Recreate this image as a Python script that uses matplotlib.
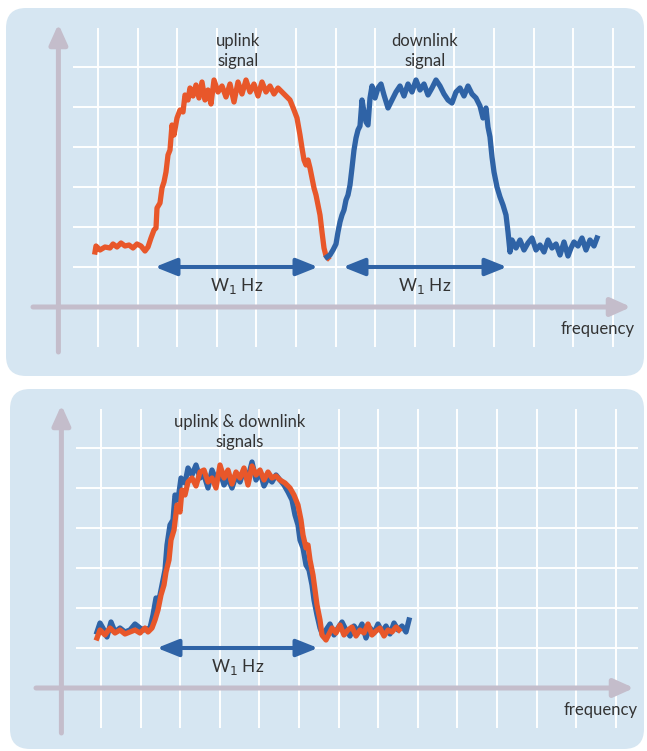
import numpy as np
import matplotlib.pyplot as plt
from matplotlib.patches import FancyBboxPatch

plt.rcParams['font.family'] = ['Lato', 'DejaVu Sans']

# ---- top panel: uplink and downlink on separate bands ----
up_f = [-3, -2, 2, 7, 12, 15, 19, 23, 27, 31, 35, 39, 43, 47, 50, 53, 56, 58, 59, 62,
        64, 66, 68, 70, 72, 74, 76, 79, 82, 85, 87, 90, 92, 95, 98, 101, 104, 107, 110, 113,
        116, 120, 124, 128, 132, 136, 140, 144, 148, 152, 156, 160, 164, 168, 172, 176, 180, 184, 188, 192,
        196, 199, 202, 204, 206, 208, 210, 212, 214, 216, 218, 220, 222, 224, 226, 228, 230]
up_p = [55, 61, 57, 60, 59, 63, 60, 64, 61, 62, 59, 63, 61, 56, 60, 69, 77, 79, 99, 104,
        119, 125, 135, 152, 157, 182, 172, 189, 197, 195, 212, 207, 219, 211, 222, 209, 225, 207, 217, 203,
        227, 215, 221, 210, 223, 205, 225, 213, 227, 215, 223, 211, 225, 215, 221, 213, 219, 215, 211, 207,
        197, 189, 172, 159, 147, 142, 147, 139, 129, 119, 112, 102, 92, 75, 59, 51, 49]

down_f = [229, 232, 235, 238, 240, 242, 244, 246, 248, 250, 252, 254, 256, 258, 260, 262, 264, 266, 268, 270,
          272, 274, 277, 280, 283, 286, 290, 294, 298, 302, 306, 310, 314, 318, 322, 326, 330, 334, 338, 342,
          346, 350, 354, 358, 362, 366, 370, 374, 378, 382, 385, 388, 390, 392, 394, 396, 399, 402, 405, 408,
          410, 412, 414, 418, 422, 426, 430, 434, 438, 442, 446, 450, 454, 458, 462, 466, 470, 473, 476, 480,
          484, 488, 492, 496, 499]
down_p = [50, 52, 57, 63, 75, 85, 92, 97, 107, 112, 122, 139, 157, 169, 177, 181, 207, 195, 185, 182,
          209, 221, 209, 219, 223, 212, 199, 207, 215, 221, 211, 223, 215, 227, 217, 223, 212, 219, 227, 221,
          213, 207, 204, 215, 219, 211, 221, 213, 209, 201, 189, 199, 180, 170, 150, 135, 120, 110, 102, 92,
          75, 55, 67, 59, 67, 57, 64, 69, 57, 62, 55, 67, 59, 63, 52, 65, 51, 59, 65, 61,
          69, 57, 67, 61, 69]

# ---- bottom panel: uplink and downlink sharing one band ----
both_up_f = [-4, -1, 4, 9, 14, 19, 24, 29, 34, 39, 44, 47, 51, 54, 57, 60, 63, 65, 68, 70,
             73, 76, 79, 81, 84, 87, 91, 95, 99, 103, 107, 111, 115, 119, 123, 127, 131, 135, 139, 143,
             147, 151, 155, 159, 163, 167, 171, 175, 179, 184, 189, 193, 197, 200, 202, 205, 207, 209, 212, 214,
             216, 219, 221, 225, 227, 231, 235, 239, 243, 247, 251, 255, 259, 263, 267, 271, 275, 279, 283, 287,
             291, 295, 298]
both_up_p = [50, 58, 53, 60, 55, 58, 54, 56, 58, 55, 60, 56, 60, 68, 78, 93, 103, 116, 128, 148,
             158, 183, 176, 198, 193, 206, 210, 202, 216, 218, 206, 210, 200, 223, 210, 218, 204, 216, 210, 220,
             203, 222, 213, 218, 208, 216, 210, 212, 208, 205, 200, 193, 183, 168, 153, 140, 143, 128, 113, 98,
             83, 68, 53, 48, 52, 60, 55, 63, 53, 58, 61, 52, 58, 55, 64, 53, 57, 60, 52, 58,
             56, 61, 58]

both_down_f = [-4, -1, 3, 6, 10, 14, 19, 24, 29, 34, 39, 43, 49, 52, 55, 58, 61, 64, 66, 69,
               72, 74, 77, 80, 84, 87, 91, 95, 99, 103, 107, 111, 115, 119, 123, 127, 131, 135, 139, 143,
               147, 151, 155, 159, 163, 167, 171, 175, 179, 183, 187, 191, 194, 197, 199, 202, 205, 208, 211, 213,
               216, 219, 222, 225, 229, 233, 237, 241, 245, 249, 253, 257, 261, 265, 269, 273, 277, 281, 285, 289,
               293, 297, 301, 305, 308]
both_down_p = [56, 65, 58, 51, 66, 56, 60, 56, 58, 64, 60, 58, 60, 73, 90, 88, 103, 118, 143, 163,
               168, 193, 188, 210, 205, 220, 213, 223, 210, 213, 200, 218, 208, 216, 203, 210, 200, 212, 206, 218,
               210, 226, 208, 216, 202, 210, 206, 213, 208, 203, 196, 188, 173, 163, 148, 140, 123, 118, 103, 88,
               73, 60, 52, 58, 64, 53, 60, 66, 58, 52, 62, 56, 64, 50, 60, 55, 64, 56, 62, 54,
               65, 58, 62, 56, 68]

grid_f = np.arange(14) * 39.6
grid_p = [40, 80, 120, 160, 200, 240]

top_bands = [(57, 220), (245, 409)]
bottom_bands = [(56, 217)]

orange = '#e8572a'
blue = '#2f63a6'
axis_c = '#c4bdcb'
panel_c = '#d6e6f2'
text_c = '#333333'

W, H = 647, 751
fig = plt.figure(figsize=(W / 100, H / 100), dpi=100)


def make_panel(px_left, px_top, px_right, px_bottom, ox, oy):
    # axes in pixel-sized data units, origin at the axis crossing
    ax = fig.add_axes([px_left / W, 1 - px_bottom / H,
                       (px_right - px_left) / W, (px_bottom - px_top) / H])
    x0, x1 = px_left - ox, px_right - ox
    y0, y1 = oy - px_bottom, oy - px_top
    ax.set_xlim(x0, x1)
    ax.set_ylim(y0, y1)
    ax.axis('off')
    ax.add_patch(FancyBboxPatch((x0 + 1, y0 + 1), x1 - x0 - 2, y1 - y0 - 2,
                                boxstyle='round,pad=0,rounding_size=20',
                                fc=panel_c, ec='none', zorder=0))
    ax.vlines(grid_f, -40, 279, color='white', lw=1.4, zorder=1)
    ax.hlines(grid_p, -25, 537, color='white', lw=1.4, zorder=1)
    ax.annotate('', xy=(-39.6, 283), xytext=(-39.6, -45),
                arrowprops=dict(arrowstyle='-|>,head_length=0.6,head_width=0.27',
                                lw=3.6, color=axis_c, mutation_scale=20,
                                shrinkA=0, shrinkB=0), zorder=2)
    ax.annotate('', xy=(533, 0), xytext=(-65, 0),
                arrowprops=dict(arrowstyle='-|>,head_length=0.6,head_width=0.27',
                                lw=3.6, color=axis_c, mutation_scale=20,
                                shrinkA=0, shrinkB=0), zorder=2)
    ax.text(537, -22, 'frequency', ha='right', va='center', fontsize=12, color=text_c)
    return ax


def band(ax, a, b):
    ax.annotate('', xy=(b, 40), xytext=(a, 40),
                arrowprops=dict(arrowstyle='<|-|>,head_length=0.65,head_width=0.26',
                                lw=2.9, color=blue, mutation_scale=20,
                                shrinkA=0, shrinkB=0), zorder=3)
    ax.text((a + b) / 2, 21, 'W$_1$ Hz', ha='center', va='center', fontsize=12.5, color=text_c)


ax1 = make_panel(5, 7, 645, 377, 98, 307)
ax1.plot(up_f, up_p, color=orange, lw=3.8, zorder=4)
ax1.plot(down_f, down_p, color=blue, lw=3.8, zorder=4)
for a, b in top_bands:
    band(ax1, a, b)
ax1.text(140, 256, 'uplink\nsignal', ha='center', va='center', fontsize=12,
         linespacing=1.25, color=text_c)
ax1.text(327, 256, 'downlink\nsignal', ha='center', va='center', fontsize=12,
         linespacing=1.25, color=text_c)

ax2 = make_panel(9, 388, 645, 750, 101, 688)
ax2.plot(both_down_f, both_down_p, color=blue, lw=3.8, zorder=4)
ax2.plot(both_up_f, both_up_p, color=orange, lw=3.8, zorder=5)
for a, b in bottom_bands:
    band(ax2, a, b)
ax2.text(139, 256, 'uplink & downlink\nsignals', ha='center', va='center', fontsize=12,
         linespacing=1.25, color=text_c)

fig.savefig('out.png', dpi=100)
